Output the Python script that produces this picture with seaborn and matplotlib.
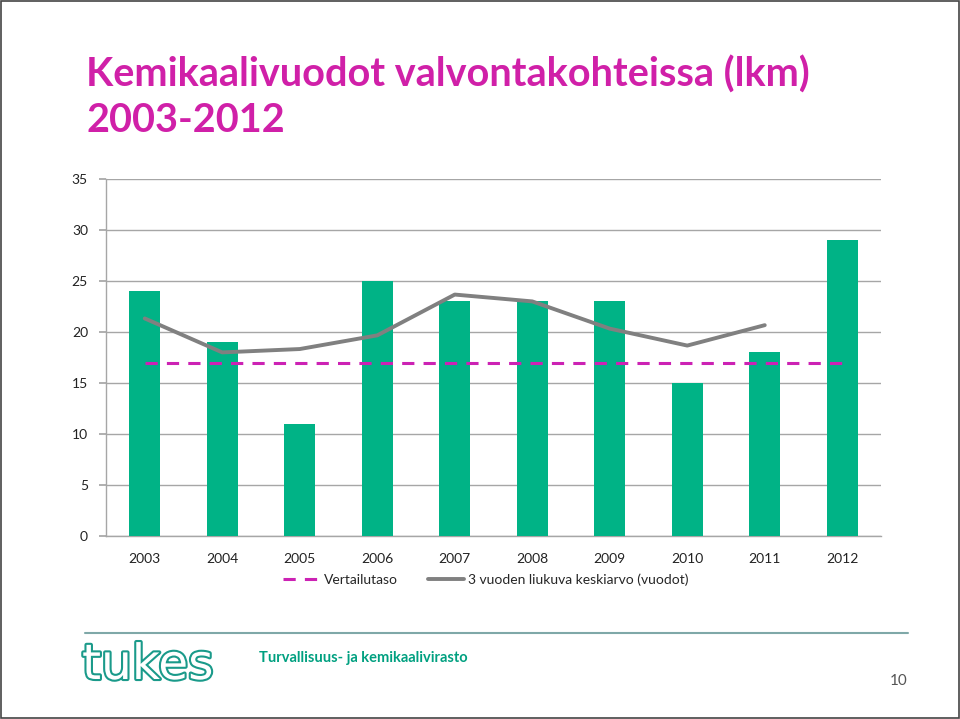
import matplotlib
matplotlib.use("Agg")
import matplotlib.pyplot as plt
import matplotlib.patheffects as pe
from matplotlib.lines import Line2D
import seaborn as sns
import pandas as pd

years = ["2003", "2004", "2005", "2006", "2007", "2008", "2009", "2010", "2011", "2012"]
counts = [24, 19, 11, 25, 23, 23, 23, 15, 18, 29]
moving_avg = [21.33, 18.0, 18.33, 19.67, 23.67, 23.0, 20.33, 18.67, 20.67, None]
reference_level = [17] * 10
y_ticks = [0, 5, 10, 15, 20, 25, 30, 35]

sns.set_theme(style="white")
plt.rcParams['font.family'] = ['Lato', 'DejaVu Sans']

df = pd.DataFrame({"year": years, "count": counts})

fig = plt.figure(figsize=(9.6, 7.19), dpi=100)
ax = fig.add_axes([106/960, 1-536/719, (881-106)/960, (536-179)/719])

bar_color = "#00B386"
sns.barplot(data=df, x="year", y="count", color=bar_color, width=0.4,
            saturation=1, linewidth=0, ax=ax, zorder=3)

xs = list(range(len(years)))
ma_x = [x for x, v in zip(xs, moving_avg) if v is not None]
ma_y = [v for v in moving_avg if v is not None]
ax.plot(ma_x, ma_y, color="#808080", lw=2.8, zorder=4)
ax.plot(xs, reference_level, color="#CC22B4", lw=2.2, ls=(0, (4, 3)), zorder=5)

ax.set_ylim(0, 35)
ax.set_xlim(-0.5, len(years) - 0.5)
ax.set_yticks(y_ticks)
ax.yaxis.grid(True, color="#A6A6A6", lw=1)
ax.set_axisbelow(True)
ax.set_xlabel("")
ax.set_ylabel("")
for s in ["top", "right"]:
    ax.spines[s].set_visible(False)
for s in ["left", "bottom"]:
    ax.spines[s].set_color("#A6A6A6")
    ax.spines[s].set_linewidth(1)
ax.tick_params(axis="y", which="both", left=True, length=5, color="#A6A6A6",
               labelsize=10, labelcolor="#222222", pad=8)
ax.tick_params(axis="x", bottom=False, labelsize=10, labelcolor="#222222", pad=6)

handles = [Line2D([], [], color="#CC22B4", lw=2.2, ls=(0, (4, 3))),
           Line2D([], [], color="#808080", lw=2.8)]
fig.legend(handles, ["Vertailutaso", "3 vuoden liukuva keskiarvo (vuodot)"],
           loc="center", bbox_to_anchor=(486/960, 1-580/719), ncol=2, frameon=False,
           fontsize=10, handlelength=2.6, handletextpad=0.3, columnspacing=2.2)

title_color = "#D020A8"
fig.text(86/960, 1-75/719, "Kemikaalivuodot valvontakohteissa (lkm)", color=title_color,
         fontsize=28.5, fontweight="bold", va="center", ha="left")
fig.text(86/960, 1-121/719, "2003-2012", color=title_color,
         fontsize=28.5, fontweight="bold", va="center", ha="left")

# footer
fig.add_artist(Line2D([85/960, 908/960], [1-633/719, 1-633/719], color="#7FA8A8", lw=1.5))
fig.text(82/960, 1-665/719, "tukes", color="white", fontsize=35, va="center", ha="left",
         fontfamily="DejaVu Sans",
         path_effects=[pe.Stroke(linewidth=3, foreground="#1A9A8A"), pe.Normal()])
fig.text(259/960, 1-658/719, "Turvallisuus- ja kemikaalivirasto", color="#00A080",
         fontsize=10.5, fontweight="bold", va="center", ha="left")
fig.text(908/960, 1-681/719, "10", color="#555555", fontsize=11, va="center", ha="right")

# frame
fig.add_artist(plt.Rectangle((0.001, 0.001), 0.998, 0.998, transform=fig.transFigure,
                             fill=False, edgecolor="#444444", lw=1.2))

fig.savefig("out.png", dpi=100)
